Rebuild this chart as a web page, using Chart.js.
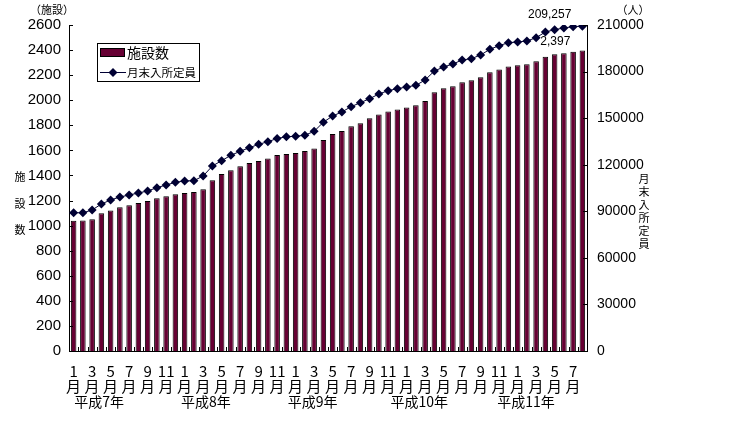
<!DOCTYPE html>
<html>
<head>
<meta charset="utf-8">
<script src="https://cdn.jsdelivr.net/npm/chart.js@4/dist/chart.umd.min.js"></script>
<style>
  html, body { margin: 0; padding: 0; background: #fff; }
  #wrap { width: 747px; height: 421px; position: relative; }
</style>
</head>
<body>
<div id="wrap"><canvas id="chart"></canvas></div>
<script>
// Chart data (平成7年1月 - 平成11年8月)
const years = ['平成7年', '平成8年', '平成9年', '平成10年', '平成11年'];
const monthsInYear = [12, 12, 12, 12, 8];

// 施設数
const facilities = [
    1039, 1040, 1050, 1098, 1121, 1146, 1162, 1180, 1196, 1218, 1234, 1250,
    1260, 1268, 1290, 1361, 1412, 1441, 1474, 1499, 1515, 1536, 1563, 1571,
    1579, 1595, 1616, 1683, 1731, 1754, 1793, 1816, 1857, 1887, 1911, 1927,
    1943, 1959, 1994, 2063, 2095, 2111, 2143, 2159, 2183, 2224, 2246, 2270,
    2278, 2286, 2310, 2347, 2366, 2374, 2387, 2397
];

// 月末入所定員
const capacity = [
    89090, 89000, 90830, 94690, 97270, 99200, 100490, 101780, 103070, 105200, 106930, 108670,
    109510, 109700, 112730, 119170, 122590, 126060, 128640, 130960, 133110, 134830, 136900, 138000,
    138300, 139000, 141500, 147400, 151380, 154000, 157380, 159960, 162540, 165550, 167700, 168980,
    170060, 171130, 174570, 180370, 182950, 184880, 187450, 188310, 190680, 194340, 196700, 198600,
    199050, 199690, 201830, 205500, 206980, 208080, 208930, 209257
];

const leftTicks = { min: 0, max: 2600, step: 200 };
const rightTicks = { min: 0, max: 210000, step: 30000 };

// build month categories
const categories = [];
years.forEach((y, yi) => {
    for (let m = 1; m <= monthsInYear[yi]; m++) {
        categories.push(y + m + '月');
    }
});
const monthNumbers = [];
monthsInYear.forEach(n => { for (let m = 1; m <= n; m++) monthNumbers.push(m); });

const FONT = '"Liberation Sans", "Noto Sans CJK JP", sans-serif';
const JP_FONT = '"Noto Sans CJK JP", sans-serif';

// extra drawing: inward ticks, legend, titles, year labels, value labels
const decorPlugin = {
    id: 'decor',
    afterDraw(chart) {
        const ctx = chart.ctx;
        const area = chart.chartArea;
        const x = chart.scales.x, y = chart.scales.y, y2 = chart.scales.y2;
        ctx.save();
        ctx.strokeStyle = '#000';
        ctx.lineWidth = 1;

        // inward tick marks
        ctx.beginPath();
        y.ticks.forEach(t => {
            const py = Math.round(y.getPixelForValue(t.value)) + 0.5;
            ctx.moveTo(area.left, py); ctx.lineTo(area.left + 4, py);
        });
        y2.ticks.forEach(t => {
            const py = Math.round(y2.getPixelForValue(t.value)) + 0.5;
            ctx.moveTo(area.right - 4, py); ctx.lineTo(area.right, py);
        });
        for (let i = 0; i <= categories.length; i++) {
            const px = Math.round(x.getPixelForValue(i - 0.5)) + 0.5;
            ctx.moveTo(px, area.bottom); ctx.lineTo(px, area.bottom - 4);
        }
        ctx.stroke();

        ctx.fillStyle = '#000';
        // unit labels
        ctx.font = '11px ' + JP_FONT;
        ctx.textAlign = 'center';
        ctx.textBaseline = 'middle';
        ctx.fillText('（施設）', 52, 10);
        ctx.fillText('（人）', 633, 10);

        // vertical axis titles
        ['施', '設', '数'].forEach((c, i) => ctx.fillText(c, 20, 177 + i * 26.5));
        ['月', '末', '入', '所', '定', '員'].forEach((c, i) => ctx.fillText(c, 644, 179 + i * 13));

        // year labels under the month ticks
        ctx.font = '14px ' + JP_FONT;
        years.forEach((yl, k) => {
            const px = x.getPixelForValue(12 * k + 2.75 - 0.46 * k);
            ctx.fillText(yl, px, 402);
        });

        // value labels on the last month
        const lastBar = chart.getDatasetMeta(0).data[facilities.length - 1];
        const lastPt = chart.getDatasetMeta(1).data[capacity.length - 1];
        ctx.font = '12px ' + FONT;
        ctx.textAlign = 'right';
        ctx.fillText(capacity[capacity.length - 1].toLocaleString('en-US'), lastPt.x - 11, lastPt.y - 11);
        ctx.fillText(facilities[facilities.length - 1].toLocaleString('en-US'), lastBar.x - 12, lastBar.y - 9);

        // legend box
        ctx.fillStyle = '#fff';
        ctx.fillRect(97, 43, 103, 39);
        ctx.strokeRect(97.5, 43.5, 102, 38);
        ctx.fillStyle = '#660033';
        ctx.fillRect(101, 49, 24, 7);
        ctx.strokeRect(100.5, 48.5, 24, 8);
        ctx.strokeStyle = '#000033';
        ctx.beginPath();
        ctx.moveTo(100, 72.5); ctx.lineTo(126, 72.5);
        ctx.stroke();
        ctx.fillStyle = '#000033';
        ctx.beginPath();
        ctx.moveTo(113, 68); ctx.lineTo(117.5, 72.5); ctx.lineTo(113, 77); ctx.lineTo(108.5, 72.5);
        ctx.closePath(); ctx.fill();
        ctx.fillStyle = '#000';
        ctx.textAlign = 'left';
        ctx.font = '14px ' + JP_FONT;
        ctx.fillText(chart.data.datasets[0].label, 127, 53);
        ctx.font = '11.5px ' + JP_FONT;
        ctx.fillText(chart.data.datasets[1].label, 127, 73);
        ctx.restore();
    }
};

const chart = new Chart(document.getElementById('chart'), {
    type: 'bar',
    data: {
        labels: categories,
        datasets: [{
            label: '施設数',
            data: facilities,
            yAxisID: 'y',
            backgroundColor: '#660033',
            borderColor: '#000',
            borderWidth: 1,
            barPercentage: 0.6,
            categoryPercentage: 1.0,
            order: 2
        }, {
            type: 'line',
            label: '月末入所定員',
            data: capacity,
            yAxisID: 'y2',
            borderColor: '#000033',
            backgroundColor: '#000033',
            borderWidth: 1,
            pointStyle: 'rectRot',
            pointRadius: 4.5,
            pointBorderWidth: 0,
            tension: 0,
            order: 1
        }]
    },
    options: {
        responsive: true,
        maintainAspectRatio: false,
        animation: false,
        layout: { padding: { top: 25, left: 0, right: 0, bottom: 0 } },
        plugins: {
            legend: { display: false },
            tooltip: { enabled: false }
        },
        scales: {
            x: {
                grid: { display: false },
                border: { display: true, color: '#000' },
                ticks: {
                    autoSkip: false,
                    maxRotation: 0,
                    minRotation: 0,
                    padding: 5,
                    color: '#000',
                    font: { family: JP_FONT, size: 15, lineHeight: 1.0 },
                    callback: (v, i) => i % 2 === 0 ? [String(monthNumbers[i]), '月'] : ''
                },
                afterFit: s => { s.height = 70; }
            },
            y: {
                position: 'left',
                min: leftTicks.min,
                max: leftTicks.max,
                grid: { display: false, drawTicks: false },
                border: { display: true, color: '#000' },
                ticks: {
                    stepSize: leftTicks.step,
                    padding: 8,
                    color: '#000',
                    font: { family: FONT, size: 15 },
                    callback: v => String(v)
                },
                afterFit: s => { s.width = 69; }
            },
            y2: {
                position: 'right',
                min: rightTicks.min,
                max: rightTicks.max,
                grid: { display: false, drawTicks: false },
                border: { display: true, color: '#000' },
                ticks: {
                    stepSize: rightTicks.step,
                    padding: 10,
                    color: '#000',
                    font: { family: FONT, size: 14 },
                    callback: v => String(v)
                },
                afterFit: s => { s.width = 160; }
            }
        }
    },
    plugins: [decorPlugin]
});
</script>
</body>
</html>
